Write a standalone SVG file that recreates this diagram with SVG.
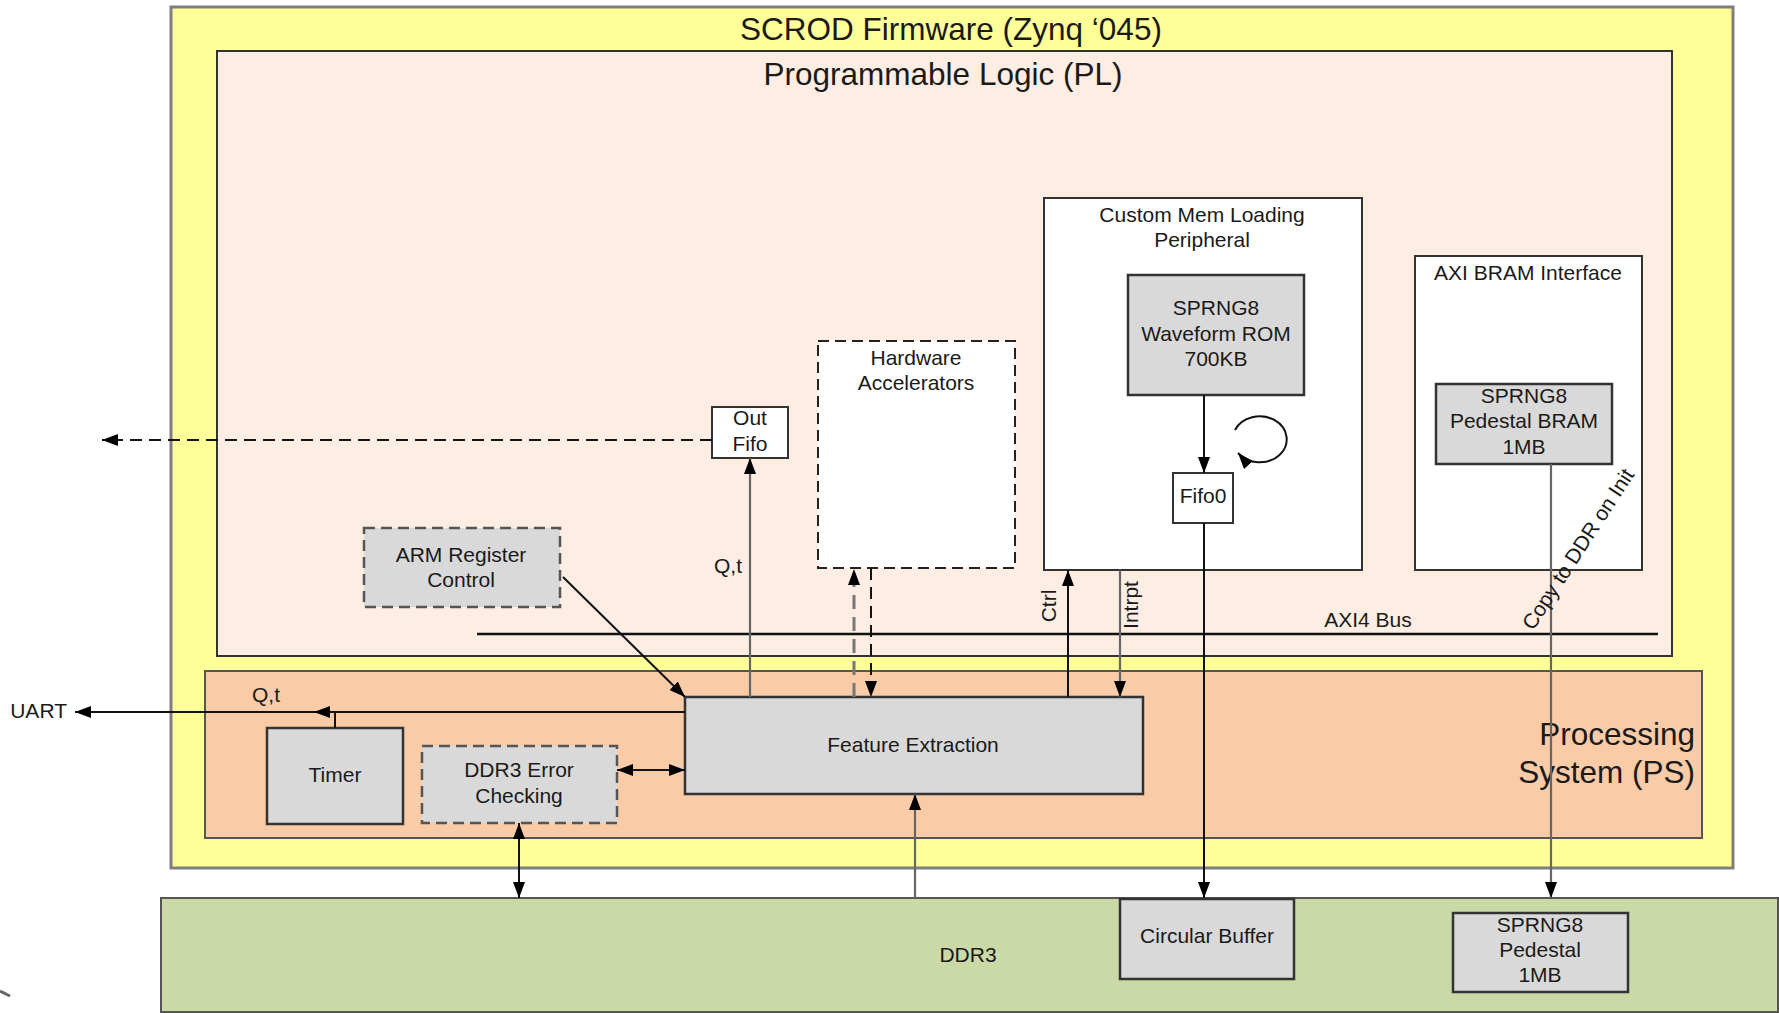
<svg xmlns="http://www.w3.org/2000/svg" width="1779" height="1013" viewBox="0 0 1779 1013">
<defs>
<style>
text{font-family:"Liberation Sans",Arial,sans-serif;fill:#1a1a1a;}
.t20{font-size:21px;}
.t30{font-size:31.5px;}
.mid{text-anchor:middle;}
.box{fill:#d9d9d9;stroke:#333;stroke-width:2.5;}
.dbox{fill:#d9d9d9;stroke:#555;stroke-width:2.5;stroke-dasharray:11,6;}
.wbox{fill:#ffffff;stroke:#333;stroke-width:2;}
.wdbox{fill:#ffffff;stroke:#222;stroke-width:2;stroke-dasharray:11,6;}
.ln{fill:none;stroke:#111;stroke-width:2;}
.gln{fill:none;stroke:#666;stroke-width:2.2;}
.dln{fill:none;stroke:#111;stroke-width:2;stroke-dasharray:12,7;}
.gdln{fill:none;stroke:#777;stroke-width:3;stroke-dasharray:14,8;}
</style>
<marker id="ah" viewBox="0 0 16 12" markerWidth="16" markerHeight="12" refX="16" refY="6" orient="auto-start-reverse" markerUnits="userSpaceOnUse">
<path d="M0,0 L16,6 L0,12 z" fill="#000"/>
</marker>
</defs>

<g id="scrod-firmware">
<rect x="171" y="7" width="1562" height="861" fill="#ffff99" stroke="#7f7f7f" stroke-width="3"/>
<text class="t30 mid" x="951" y="40">SCROD Firmware (Zynq ‘045)</text>
</g>

<g id="programmable-logic">
<rect x="217" y="51" width="1455" height="605" fill="#fdede2" stroke="#333" stroke-width="2"/>
<text class="t30 mid" x="943" y="85">Programmable Logic (PL)</text>
</g>

<g id="processing-system">
<rect x="205" y="671" width="1497" height="167" fill="#f9cba7" stroke="#555" stroke-width="2"/>
<text class="t30" x="1695" y="745" text-anchor="end">Processing</text>
<text class="t30" x="1695" y="783" text-anchor="end">System (PS)</text>
</g>

<g id="ddr3">
<rect x="161" y="898" width="1617" height="114" fill="#cbd9a7" stroke="#555" stroke-width="2"/>
<text class="t20 mid" x="968" y="962">DDR3</text>
</g>

<g id="circular-buffer">
<rect class="box" x="1120" y="899" width="174" height="80"/>
<text class="t20 mid" x="1207" y="943">Circular Buffer</text>
</g>

<g id="ddr-pedestal">
<rect class="box" x="1453" y="913" width="175" height="79"/>
<text class="t20 mid" x="1540" y="932">SPRNG8</text>
<text class="t20 mid" x="1540" y="957">Pedestal</text>
<text class="t20 mid" x="1540" y="982">1MB</text>
</g>

<g id="feature-extraction">
<rect class="box" x="685" y="697" width="458" height="97"/>
<text class="t20 mid" x="913" y="752">Feature Extraction</text>
</g>

<g id="timer">
<rect class="box" x="267" y="728" width="136" height="96"/>
<text class="t20 mid" x="335" y="782">Timer</text>
</g>

<g id="ddr3-error-checking">
<rect class="dbox" x="422" y="746" width="195" height="77"/>
<text class="t20 mid" x="519" y="777">DDR3 Error</text>
<text class="t20 mid" x="519" y="803">Checking</text>
</g>

<g id="arm-register-control">
<rect class="dbox" x="364" y="528" width="196" height="79"/>
<text class="t20 mid" x="461" y="562">ARM Register</text>
<text class="t20 mid" x="461" y="587">Control</text>
</g>

<g id="out-fifo">
<rect class="wbox" x="712" y="407" width="76" height="51"/>
<text class="t20 mid" x="750" y="425">Out</text>
<text class="t20 mid" x="750" y="451">Fifo</text>
</g>

<g id="hardware-accelerators">
<rect class="wdbox" x="818" y="341" width="197" height="227"/>
<text class="t20 mid" x="916" y="365">Hardware</text>
<text class="t20 mid" x="916" y="390">Accelerators</text>
</g>

<g id="custom-mem-loading">
<rect class="wbox" x="1044" y="198" width="318" height="372"/>
<text class="t20 mid" x="1202" y="222">Custom Mem Loading</text>
<text class="t20 mid" x="1202" y="247">Peripheral</text>
</g>

<g id="waveform-rom">
<rect class="box" x="1128" y="275" width="176" height="120"/>
<text class="t20 mid" x="1216" y="315">SPRNG8</text>
<text class="t20 mid" x="1216" y="341">Waveform ROM</text>
<text class="t20 mid" x="1216" y="366">700KB</text>
</g>

<g id="fifo0">
<rect class="wbox" x="1173" y="473" width="60" height="50"/>
<text class="t20 mid" x="1203" y="503">Fifo0</text>
</g>

<g id="axi-bram-interface">
<rect class="wbox" x="1415" y="256" width="227" height="314"/>
<text class="t20 mid" x="1528" y="280">AXI BRAM Interface</text>
</g>

<g id="pedestal-bram">
<rect class="box" x="1436" y="384" width="176" height="80"/>
<text class="t20 mid" x="1524" y="403">SPRNG8</text>
<text class="t20 mid" x="1524" y="428">Pedestal BRAM</text>
<text class="t20 mid" x="1524" y="454">1MB</text>
</g>

<g id="axi4-bus">
<line x1="477" y1="634" x2="1658" y2="634" stroke="#111" stroke-width="2.5"/>
<text class="t20 mid" x="1368" y="627">AXI4 Bus</text>
</g>

<g id="connectors">
<path class="ln" d="M685,712 H75" marker-end="url(#ah)"/>
<text class="t20" x="67" y="718" text-anchor="end">UART</text>
<text class="t20" x="252" y="702">Q,t</text>
<path class="ln" d="M335,728 V712 H314" marker-end="url(#ah)"/>
<path class="ln" d="M563,577 L685,697" marker-end="url(#ah)"/>
<path class="ln" d="M617,770 H685" marker-start="url(#ah)" marker-end="url(#ah)"/>
<path class="ln" d="M519,823 V898" marker-start="url(#ah)" marker-end="url(#ah)"/>
<path class="gln" d="M750,697 V458" marker-end="url(#ah)"/>
<text class="t20" x="742" y="573" text-anchor="end">Q,t</text>
<path class="dln" d="M712,440 H102" marker-end="url(#ah)"/>
<path class="gdln" d="M854,697 V569" marker-end="url(#ah)"/>
<path class="dln" d="M871,568 V697" marker-end="url(#ah)"/>
<path class="ln" d="M1068,697 V570" marker-end="url(#ah)"/>
<text class="t20 mid" transform="translate(1056,606) rotate(-90)">Ctrl</text>
<path class="gln" d="M1120,570 V697" marker-end="url(#ah)"/>
<text class="t20 mid" transform="translate(1138,605) rotate(-90)">Intrpt</text>
<path class="ln" d="M1204,395 V473" marker-end="url(#ah)"/>
<path class="ln" d="M1235,430 A27,23 0 1 1 1238,453" marker-end="url(#ah)"/>
<path class="ln" d="M1204,523 V898" marker-end="url(#ah)"/>
<path class="gln" d="M915,898 V794" marker-end="url(#ah)"/>
<path class="gln" d="M1551,464 V898" marker-end="url(#ah)"/>
<text class="t20 mid" transform="translate(1584,553) rotate(-57)">Copy to DDR on Init</text>
</g>

<path d="M0,991 L10,996" stroke="#666" stroke-width="3" fill="none"/>
</svg>
